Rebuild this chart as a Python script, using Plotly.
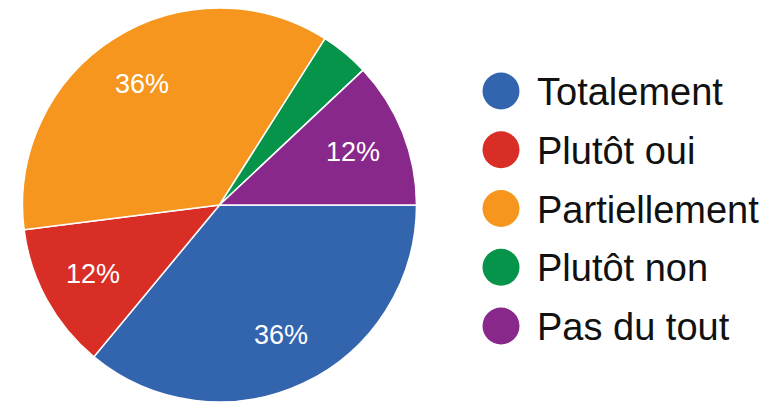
import math
import plotly.graph_objects as go

labels = ["Totalement", "Plutôt oui", "Partiellement", "Plutôt non", "Pas du tout"]
counts = [9, 3, 9, 1, 3]
colors = ["#3364ae", "#d92e26", "#f6961f", "#06934a", "#89288b"]

OFF = 8  # default page body margin
W, H = 777 - OFF, 403 - OFF
FONT = "Arial, Liberation Sans, sans-serif"


def px(x):
    return (x - OFF) / W


def py(y):
    return 1 - (y - OFF) / H


CX, CY, R = 219.5, 205, 197
START = 90  # degrees clockwise from 12 o'clock

fig = go.Figure()
fig.add_trace(go.Pie(
    labels=labels,
    values=counts,
    sort=False,
    direction="clockwise",
    rotation=START,
    marker=dict(colors=colors, line=dict(color="white", width=1.5)),
    textinfo="none",
    domain=dict(x=[px(CX - R), px(CX + R)],
                y=[max(0, py(CY + R)), min(1, py(CY - R))]),
    showlegend=False,
    hoverinfo="label+percent",
))

annos, shapes = [], []
total = sum(counts)
cum = 0
for lab, c in zip(labels, counts):
    frac = c / total
    mid = math.radians(START + 360 * (cum + c / 2) / total)
    cum += c
    if frac < 0.05:
        continue
    rr = 0.73 * R
    x = CX + rr * math.sin(mid)
    y = CY - rr * math.cos(mid)
    annos.append(dict(text=f"{frac:.0%}", xref="paper", yref="paper",
                      x=px(x), y=py(y), xanchor="center", yanchor="middle",
                      showarrow=False, font=dict(size=27, color="white", family=FONT)))

# legend drawn as circles + text
lx, ly0, dy, rad = 501, 91, 58.75, 18.5
for i, (lab, col) in enumerate(zip(labels, colors)):
    cy = ly0 + i * dy
    shapes.append(dict(type="circle", xref="paper", yref="paper",
                       x0=px(lx - rad), x1=px(lx + rad),
                       y0=py(cy + rad), y1=py(cy - rad),
                       fillcolor=col, line=dict(width=0)))
    annos.append(dict(text=lab, xref="paper", yref="paper",
                      x=px(535), y=py(cy + 1), xanchor="left", yanchor="middle",
                      showarrow=False, font=dict(size=38, color="#111111", family=FONT)))

fig.update_layout(
    width=W, height=H,
    margin=dict(l=0, r=0, t=0, b=0),
    paper_bgcolor="white", plot_bgcolor="white",
    shapes=shapes, annotations=annos,
)

fig.write_html("out.html")
